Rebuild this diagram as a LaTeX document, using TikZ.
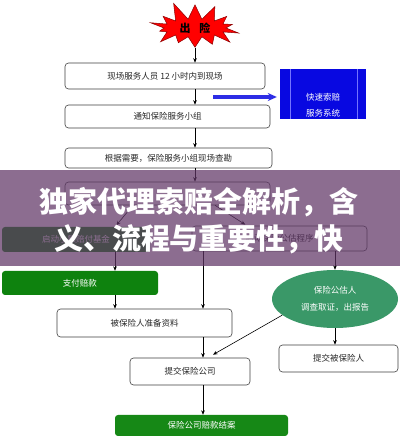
\documentclass[tikz,border=0pt]{standalone}
\usepackage{fontspec}
\setmainfont{Noto Sans CJK SC}
\usetikzlibrary{shapes.symbols,shapes.geometric,arrows.meta}
\definecolor{fastblue}{RGB}{8,8,225}
\definecolor{paygreen}{RGB}{14,130,14}
\definecolor{ellgreen}{RGB}{58,152,104}
\definecolor{endgreen}{RGB}{22,136,22}
\definecolor{bannerpurple}{RGB}{96,54,102}
\definecolor{txtgray}{RGB}{40,40,40}
\begin{document}
\begin{tikzpicture}[x=1pt,y=1pt,
  box/.style={draw=black!75, rounded corners=3.5pt, line width=0.6pt, fill=white,
    text=txtgray, font=\fontsize{8.5}{10}\selectfont, inner sep=0pt},
  gbox/.style={rounded corners=3pt, fill=#1, text=white,
    font=\fontsize{8.5}{10}\selectfont, inner sep=0pt},
  arr/.style={-{Stealth[length=4.5pt,width=3.6pt]}, line width=0.6pt, black},
  bluearr/.style={-{Stealth[length=9pt,width=8pt]}, line width=3.4pt, fastblue!85!white},
  bannertext/.style={text=white, font=\bfseries\fontsize{29}{32}\selectfont, inner sep=0pt}
]
\useasboundingbox (0,0) rectangle (400,437);
\fill[white] (0,0) rectangle (400,437);

% column coordinates
\coordinate (colS) at (195,0);
\coordinate (colA) at (115,0);
\coordinate (colB) at (203,0);
\coordinate (colC) at (335,0);

% star
\node[starburst, starburst points=14, starburst point height=19pt, random starburst=11,
  fill=red, draw=red!55!black, line width=0.5pt, minimum width=100pt, minimum height=56pt,
  font=\bfseries\fontsize{11}{12}\selectfont, inner sep=0pt] (star) at (195,409) {出\hspace{0.8em}险};

% main column boxes
\node[box, minimum width=200pt, minimum height=26pt] (b1) at (165,361) {现场服务人员 12 小时内到现场};
\node[box, minimum width=205pt, minimum height=23pt] (b2) at (167.5,320.5) {通知保险服务小组};
\node[box, minimum width=207pt, minimum height=20pt] (b3) at (168.5,279) {根据需要，保险服务小组现场查勘};
\node[box, minimum width=205pt, minimum height=23pt] (b4) at (167.5,243.5) {};

% fast claim system
\node[fill=fastblue, minimum width=86pt, minimum height=50pt, inner sep=0pt] (fast) at (323,343) {};
\draw[blue!55!white, line width=0.5pt] ([xshift=10pt]fast.north west) -- ([xshift=10pt]fast.south west);
\draw[blue!55!white, line width=0.5pt] ([xshift=-9pt]fast.north east) -- ([xshift=-9pt]fast.south east);
\node[text=white, align=center, font=\fontsize{8.5}{16}\selectfont, inner sep=0pt] (fasttext) at (323,332) {快速索赔\\服务系统};
\coordinate (bluestart) at (213,340);
\draw[bluearr] (bluestart) -- ([xshift=-3pt]fast.west |- bluestart);

% second level
\node[gbox=paygreen, minimum width=148pt, minimum height=25pt] (lb) at (76,197.5) {启动小额赔付基金};
\node[box, minimum width=175pt, minimum height=25pt] (rb) at (279.5,198.5) {启动保险公估程序};

% lower part
\node[gbox=paygreen, minimum width=156pt, minimum height=24pt] (pay) at (80,154) {支付赔款};
\node[box, minimum width=175pt, minimum height=28pt] (prep) at (144.5,114) {被保险人准备资料};
\node[ellipse, fill=ellgreen, text=white, minimum width=126pt, minimum height=58pt, inner sep=0pt,
  align=center, font=\fontsize{8.5}{17}\selectfont] (ell) at (335,138) {保险公估人\\调查取证，出报告};
\node[box, minimum width=119pt, minimum height=27pt] (subins) at (338.5,78.5) {提交被保险人};
\node[box, minimum width=120pt, minimum height=27pt] (subco) at (190,65.5) {提交保险公司};
\node[gbox=endgreen, minimum width=173pt, minimum height=21pt] (end) at (201.5,11.5) {保险公司赔款结案};

% connectors
\draw[arr] (star.south -| colS) -- (b1.north -| colS);
\draw[arr] (b1.south -| colS) -- (b2.north -| colS);
\draw[arr] (b2.south -| colS) -- (b3.north -| colS);
\draw[arr] (b3.south -| colS) -- (b4.north -| colS);
\draw[arr, shorten >=2pt] ([xshift=-34.5pt]b4.south) -- ([xshift=39pt]lb.north);
\draw[arr, shorten >=2pt] ([xshift=47.5pt]b4.south) -- ([xshift=-32.5pt]rb.north);
\draw[arr] (lb.south -| colA) -- (pay.north -| colA);
\draw[arr] (pay.south -| colA) -- (prep.north -| colA);
\draw[arr] (rb.south -| colB) -- (prep.north -| colB);
\draw[arr] (rb.south -| colC) -- (ell.north -| colC);
\draw[arr] (prep.south -| colB) -- (subco.north -| colB);
\draw[arr] (ell.south -| colC) -- (subins.north -| colC);
\draw[arr] (ell.197) -- ([xshift=23pt,yshift=3pt]subco.north);
\draw[arr] (subco.south -| colB) -- (end.north -| colB);

% banner overlay
\fill[bannerpurple, opacity=0.72] (0,171) rectangle (400,267);
\node[bannertext] (bt1) at (199,235) {独家代理索赔全解析，含};
\node[bannertext] (bt2) at (199,198) {义、流程与重要性，快};
\end{tikzpicture}
\end{document}
